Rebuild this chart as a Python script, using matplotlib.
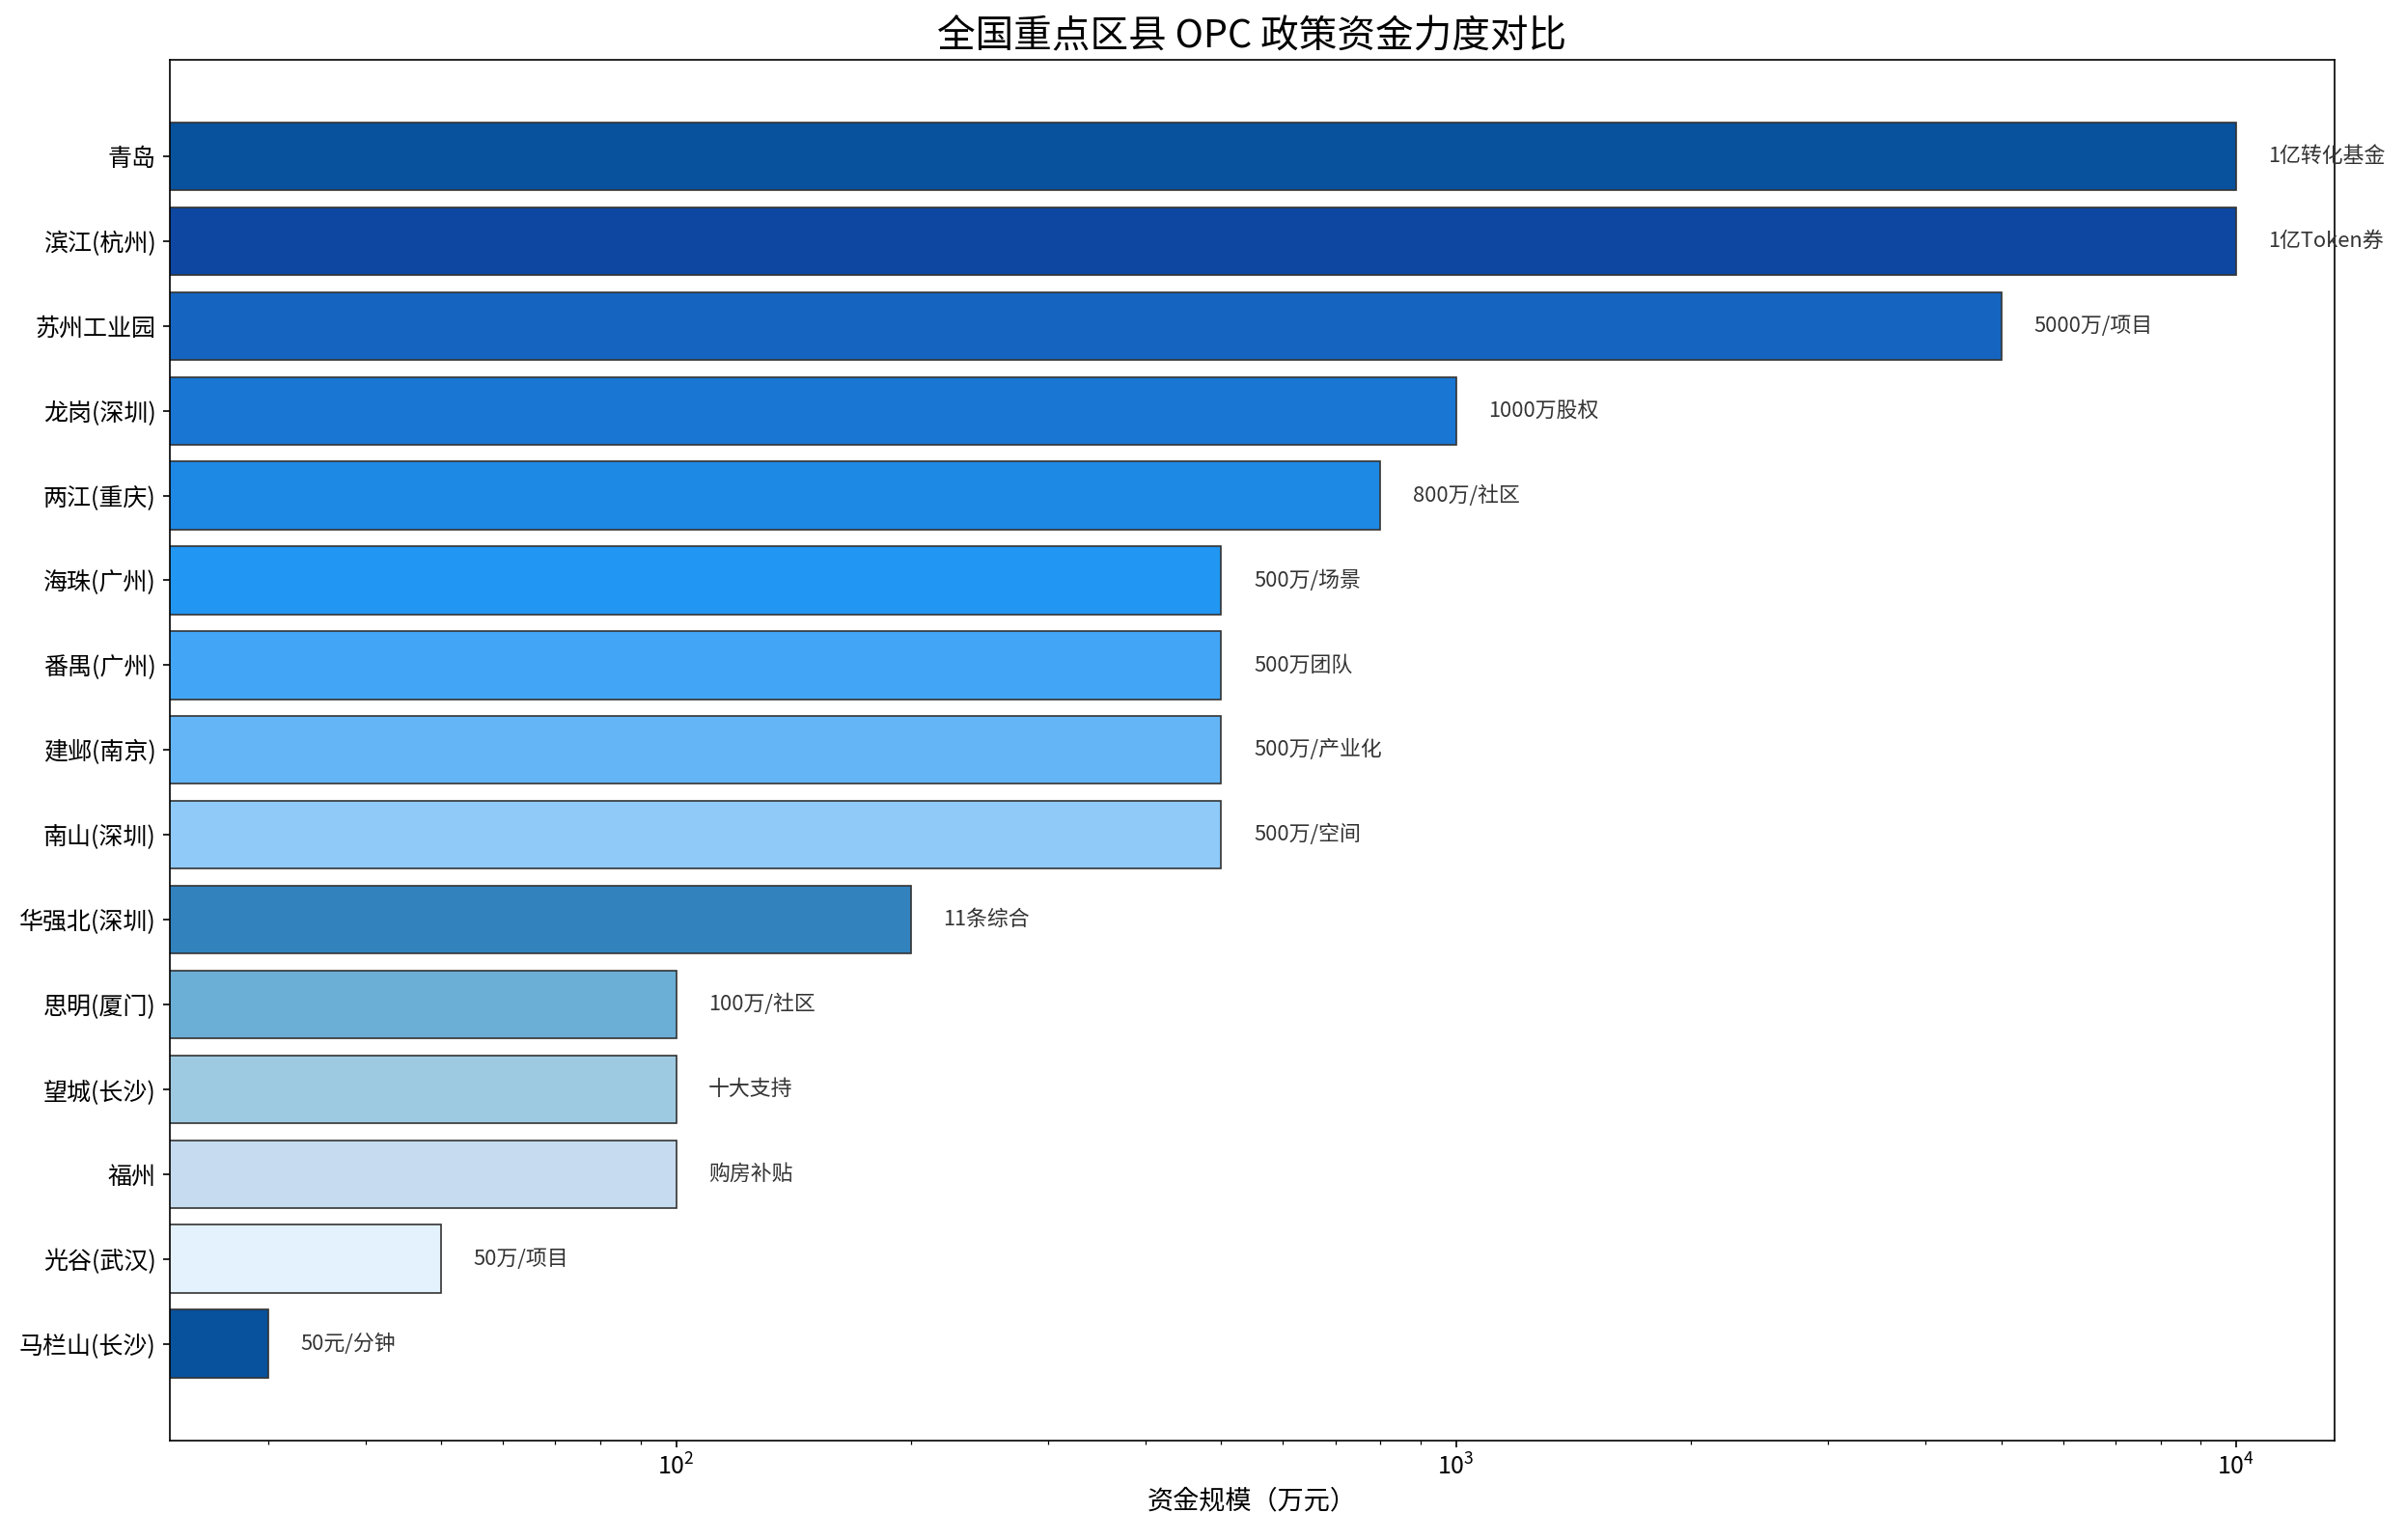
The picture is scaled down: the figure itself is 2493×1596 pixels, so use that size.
import matplotlib
matplotlib.use("Agg")
import matplotlib.pyplot as plt

plt.rcParams['font.family'] = ['Noto Sans CJK SC', 'DejaVu Sans']
plt.rcParams['axes.unicode_minus'] = False

# 数据
regions = ["青岛", "滨江(杭州)", "苏州工业园", "龙岗(深圳)", "两江(重庆)",
           "海珠(广州)", "番禺(广州)", "建邺(南京)", "南山(深圳)", "华强北(深圳)",
           "思明(厦门)", "望城(长沙)", "福州", "光谷(武汉)", "马栏山(长沙)"]
funds = [10000, 10000, 5000, 1000, 800, 500, 500, 500, 500, 200, 100, 100, 100, 50, 30]
notes = ["1亿转化基金", "1亿Token券", "5000万/项目", "1000万股权", "800万/社区",
         "500万/场景", "500万团队", "500万/产业化", "500万/空间", "11条综合",
         "100万/社区", "十大支持", "购房补贴", "50万/项目", "50元/分钟"]
colors = ["#08519c", "#0d47a1", "#1565c0", "#1976d2", "#1e88e5",
          "#2196f3", "#42a5f5", "#64b5f6", "#90caf9", "#3182bd",
          "#6baed6", "#9ecae1", "#c6dbef", "#e3f2fd", "#08519c"]

fig = plt.figure(figsize=(2493 / 150, 1596 / 150), dpi=150)
ax = fig.add_axes([0.0706, 0.0647, 0.8997, 0.8966])

y = list(range(len(regions)))[::-1]
ax.barh(y, funds, color=colors, edgecolor="#333333", linewidth=0.8)
ax.set_xscale("log")
ax.set_yticks(y)
ax.set_yticklabels(regions, fontsize=12)
ax.tick_params(axis="x", labelsize=12)

for yi, v, t in zip(y, funds, notes):
    ax.text(v * 1.1, yi, t, va="center", fontsize=10.5, color="#333333")

ax.set_title("全国重点区县 OPC 政策资金力度对比", fontsize=19)
ax.set_xlabel("资金规模（万元）", fontsize=13,
              family=['Noto Sans CJK KR', 'DejaVu Sans'])

fig.savefig("out.png", dpi=150)
